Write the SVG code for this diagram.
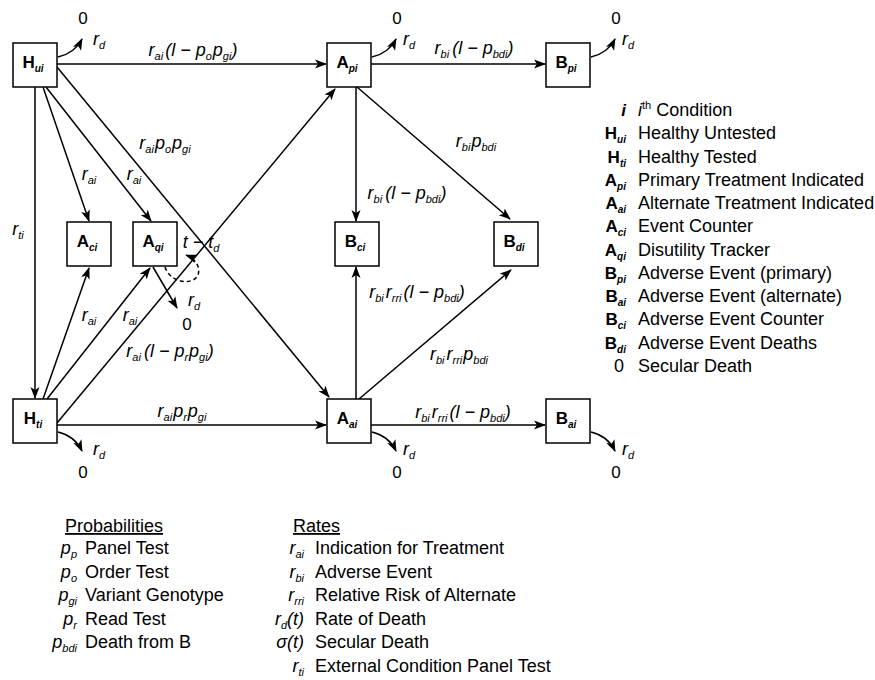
<svg xmlns="http://www.w3.org/2000/svg" width="875" height="680" viewBox="0 0 875 680">
<defs>
<marker id="ah" markerWidth="12" markerHeight="10" refX="11" refY="5" orient="auto" markerUnits="userSpaceOnUse"><path d="M0,0.5 L12,5 L0,9.5 L3,5 z" fill="#000"/></marker>
</defs>
<style>
text{font-family:"Liberation Sans",Arial,sans-serif;fill:#000}
.n rect{fill:#fff;stroke:#000;stroke-width:1.5}
.n text{font-weight:bold;font-size:17px;text-anchor:middle}
.n .s{font-size:10px;font-style:italic}
.l{font-style:italic;font-size:18px}
.m{text-anchor:middle}
.s{font-size:11px}
.c line,.c path{stroke:#000;stroke-width:1.5;fill:none}
.a{marker-end:url(#ah)}
.d{stroke-dasharray:4 3}
.z{font-size:17px}
.g{font-size:18px}
.k{font-weight:bold;font-size:17px;text-anchor:end}
.k .s{font-size:10px;font-style:italic}
.e{text-anchor:end}
.u{text-decoration:underline}
</style>

<g id="connectors" class="c">
<line class="a" x1="57" y1="64" x2="326" y2="64"/>
<line class="a" x1="371" y1="64" x2="545" y2="64"/>
<line class="a" x1="57" y1="425" x2="326" y2="425"/>
<line class="a" x1="371" y1="425" x2="545" y2="425"/>
<line class="a" x1="35" y1="87" x2="35" y2="398"/>
<line class="a" x1="43" y1="87" x2="89" y2="221"/>
<line class="a" x1="46" y1="87" x2="151" y2="221"/>
<line class="a" x1="57" y1="67" x2="329" y2="397"/>
<line class="a" x1="57" y1="423" x2="335" y2="89"/>
<line class="a" x1="43" y1="399" x2="89" y2="268"/>
<line class="a" x1="47" y1="399" x2="150" y2="268"/>
<line class="a" x1="153" y1="267" x2="177" y2="308"/>
<path class="a d" d="M165,267 C170,283 193,286 198,275 C201,266 194,258 186,255"/>
<line class="a" x1="356" y1="87" x2="356" y2="221"/>
<line class="a" x1="357" y1="87" x2="510" y2="219"/>
<line class="a" x1="356" y1="399" x2="356" y2="267"/>
<line class="a" x1="359" y1="399" x2="511" y2="270"/>
<path class="a" d="M58,57 Q75,53 82,39"/>
<path class="a" d="M372,57 Q389,53 396,39"/>
<path class="a" d="M591,57 Q608,53 615,39"/>
<path class="a" d="M58,432 Q75,436 82,451"/>
<path class="a" d="M372,432 Q389,436 396,451"/>
<path class="a" d="M591,432 Q608,436 615,451"/>
</g>

<g id="edge-labels">
<text class="l m" x="193" y="56">r<tspan class="s" dy="4">ai</tspan><tspan dy="-4" dx="2">(l − p</tspan><tspan class="s" dy="4">o</tspan><tspan dy="-4" dx="1">p</tspan><tspan class="s" dy="4">gi</tspan><tspan dy="-4">)</tspan></text>
<text class="l m" x="474" y="54">r<tspan class="s" dy="4">bi</tspan><tspan dy="-4" dx="3">(l − p</tspan><tspan class="s" dy="4">bdi</tspan><tspan dy="-4">)</tspan></text>
<text class="l m" x="165" y="149">r<tspan class="s" dy="4">ai</tspan><tspan dy="-4" dx="1">p</tspan><tspan class="s" dy="4">o</tspan><tspan dy="-4" dx="1">p</tspan><tspan class="s" dy="4">gi</tspan></text>
<text class="l m" x="89" y="180">r<tspan class="s" dy="4">ai</tspan></text>
<text class="l m" x="134" y="180">r<tspan class="s" dy="4">ai</tspan></text>
<text class="l m" x="476" y="147">r<tspan class="s" dy="4">bi</tspan><tspan dy="-4" dx="1">p</tspan><tspan class="s" dy="4">bdi</tspan></text>
<text class="l m" x="407" y="199">r<tspan class="s" dy="4">bi</tspan><tspan dy="-4" dx="3">(l − p</tspan><tspan class="s" dy="4">bdi</tspan><tspan dy="-4">)</tspan></text>
<text class="l m" x="18" y="235">r<tspan class="s" dy="4">ti</tspan></text>
<text class="l m" x="201" y="248">t − t<tspan class="s" dy="4">d</tspan></text>
<text class="l" x="188" y="306">r<tspan class="s" dy="4">d</tspan></text>
<text class="z m" x="187" y="330">0</text>
<text class="l m" x="89" y="321">r<tspan class="s" dy="4">ai</tspan></text>
<text class="l m" x="130" y="321">r<tspan class="s" dy="4">ai</tspan></text>
<text class="l m" x="170" y="357">r<tspan class="s" dy="4">ai</tspan><tspan dy="-4" dx="3">(l − p</tspan><tspan class="s" dy="4">r</tspan><tspan dy="-4" dx="1">p</tspan><tspan class="s" dy="4">gi</tspan><tspan dy="-4">)</tspan></text>
<text class="l m" x="417" y="298">r<tspan class="s" dy="4">bi</tspan><tspan dy="-4" dx="2">r</tspan><tspan class="s" dy="4">rri</tspan><tspan dy="-4" dx="2">(l − p</tspan><tspan class="s" dy="4">bdi</tspan><tspan dy="-4">)</tspan></text>
<text class="l m" x="459" y="360">r<tspan class="s" dy="4">bi</tspan><tspan dy="-4" dx="2">r</tspan><tspan class="s" dy="4">rri</tspan><tspan dy="-4" dx="1">p</tspan><tspan class="s" dy="4">bdi</tspan></text>
<text class="l m" x="182" y="417">r<tspan class="s" dy="4">ai</tspan><tspan dy="-4" dx="1">p</tspan><tspan class="s" dy="4">r</tspan><tspan dy="-4" dx="1">p</tspan><tspan class="s" dy="4">gi</tspan></text>
<text class="l m" x="463" y="418">r<tspan class="s" dy="4">bi</tspan><tspan dy="-4" dx="2">r</tspan><tspan class="s" dy="4">rri</tspan><tspan dy="-4" dx="2">(l − p</tspan><tspan class="s" dy="4">bdi</tspan><tspan dy="-4">)</tspan></text>
</g>

<g id="death-labels">
<text class="z m" x="83" y="24">0</text>
<text class="l" x="93" y="45">r<tspan class="s" dy="4">d</tspan></text>
<text class="z m" x="397" y="24">0</text>
<text class="l" x="403" y="45">r<tspan class="s" dy="4">d</tspan></text>
<text class="z m" x="616" y="24">0</text>
<text class="l" x="622" y="45">r<tspan class="s" dy="4">d</tspan></text>
<text class="l" x="93" y="455">r<tspan class="s" dy="4">d</tspan></text>
<text class="z m" x="83" y="478">0</text>
<text class="l" x="403" y="455">r<tspan class="s" dy="4">d</tspan></text>
<text class="z m" x="397" y="478">0</text>
<text class="l" x="622" y="455">r<tspan class="s" dy="4">d</tspan></text>
<text class="z m" x="616" y="478">0</text>
</g>

<g id="H_ui" class="n"><rect x="13" y="43" width="44" height="44"/><text x="33" y="68">H<tspan class="s" dy="4">ui</tspan></text></g>
<g id="A_pi" class="n"><rect x="327" y="43" width="44" height="44"/><text x="347" y="68">A<tspan class="s" dy="4">pi</tspan></text></g>
<g id="B_pi" class="n"><rect x="546" y="43" width="44" height="44"/><text x="566" y="68">B<tspan class="s" dy="4">pi</tspan></text></g>
<g id="A_ci" class="n"><rect x="67" y="222" width="44" height="44"/><text x="87" y="247">A<tspan class="s" dy="4">ci</tspan></text></g>
<g id="A_qi" class="n"><rect x="133" y="222" width="44" height="44"/><text x="153" y="247">A<tspan class="s" dy="4">qi</tspan></text></g>
<g id="B_ci" class="n"><rect x="335" y="222" width="44" height="44"/><text x="355" y="247">B<tspan class="s" dy="4">ci</tspan></text></g>
<g id="B_di" class="n"><rect x="494" y="222" width="44" height="44"/><text x="514" y="247">B<tspan class="s" dy="4">di</tspan></text></g>
<g id="H_ti" class="n"><rect x="13" y="399" width="44" height="44"/><text x="33" y="424">H<tspan class="s" dy="4">ti</tspan></text></g>
<g id="A_ai" class="n"><rect x="327" y="399" width="44" height="44"/><text x="347" y="424">A<tspan class="s" dy="4">ai</tspan></text></g>
<g id="B_ai" class="n"><rect x="546" y="399" width="44" height="44"/><text x="566" y="424">B<tspan class="s" dy="4">ai</tspan></text></g>

<g id="legend-states">
<text class="k" x="626" y="116" font-style="italic">i</text>
<text class="g l" x="638" y="116">i<tspan class="s" dy="-7" font-style="normal">th</tspan><tspan dy="7" font-style="normal"> Condition</tspan></text>
<text class="k" x="626" y="139">H<tspan class="s" dy="4">ui</tspan></text><text class="g" x="638" y="139">Healthy Untested</text>
<text class="k" x="626" y="163">H<tspan class="s" dy="4">ti</tspan></text><text class="g" x="638" y="163">Healthy Tested</text>
<text class="k" x="626" y="186">A<tspan class="s" dy="4">pi</tspan></text><text class="g" x="638" y="186">Primary Treatment Indicated</text>
<text class="k" x="626" y="209">A<tspan class="s" dy="4">ai</tspan></text><text class="g" x="638" y="209">Alternate Treatment Indicated</text>
<text class="k" x="626" y="232">A<tspan class="s" dy="4">ci</tspan></text><text class="g" x="638" y="232">Event Counter</text>
<text class="k" x="626" y="256">A<tspan class="s" dy="4">qi</tspan></text><text class="g" x="638" y="256">Disutility Tracker</text>
<text class="k" x="626" y="279">B<tspan class="s" dy="4">pi</tspan></text><text class="g" x="638" y="279">Adverse Event (primary)</text>
<text class="k" x="626" y="302">B<tspan class="s" dy="4">ai</tspan></text><text class="g" x="638" y="302">Adverse Event (alternate)</text>
<text class="k" x="626" y="325">B<tspan class="s" dy="4">ci</tspan></text><text class="g" x="638" y="325">Adverse Event Counter</text>
<text class="k" x="626" y="349">B<tspan class="s" dy="4">di</tspan></text><text class="g" x="638" y="349">Adverse Event Deaths</text>
<text class="g e" x="624" y="372">0</text><text class="g" x="638" y="372">Secular Death</text>
</g>

<g id="legend-probabilities">
<text class="g u" x="65" y="532">Probabilities</text>
<text class="l e" x="77" y="554">p<tspan class="s" dy="4">p</tspan></text><text class="g" x="85" y="554">Panel Test</text>
<text class="l e" x="77" y="578">p<tspan class="s" dy="4">o</tspan></text><text class="g" x="85" y="578">Order Test</text>
<text class="l e" x="77" y="601">p<tspan class="s" dy="4">gi</tspan></text><text class="g" x="85" y="601">Variant Genotype</text>
<text class="l e" x="77" y="625">p<tspan class="s" dy="4">r</tspan></text><text class="g" x="85" y="625">Read Test</text>
<text class="l e" x="77" y="648">p<tspan class="s" dy="4">bdi</tspan></text><text class="g" x="85" y="648">Death from B</text>
</g>

<g id="legend-rates">
<text class="g u" x="293" y="532">Rates</text>
<text class="l e" x="304" y="554">r<tspan class="s" dy="4">ai</tspan></text><text class="g" x="315" y="554">Indication for Treatment</text>
<text class="l e" x="304" y="578">r<tspan class="s" dy="4">bi</tspan></text><text class="g" x="315" y="578">Adverse Event</text>
<text class="l e" x="304" y="601">r<tspan class="s" dy="4">rri</tspan></text><text class="g" x="315" y="601">Relative Risk of Alternate</text>
<text class="l e" x="304" y="625">r<tspan class="s" dy="4">d</tspan><tspan dy="-4">(t)</tspan></text><text class="g" x="315" y="625">Rate of Death</text>
<text class="l e" x="304" y="648">σ(t)</text><text class="g" x="315" y="648">Secular Death</text>
<text class="l e" x="304" y="672">r<tspan class="s" dy="4">ti</tspan></text><text class="g" x="315" y="672">External Condition Panel Test</text>
</g>
</svg>
